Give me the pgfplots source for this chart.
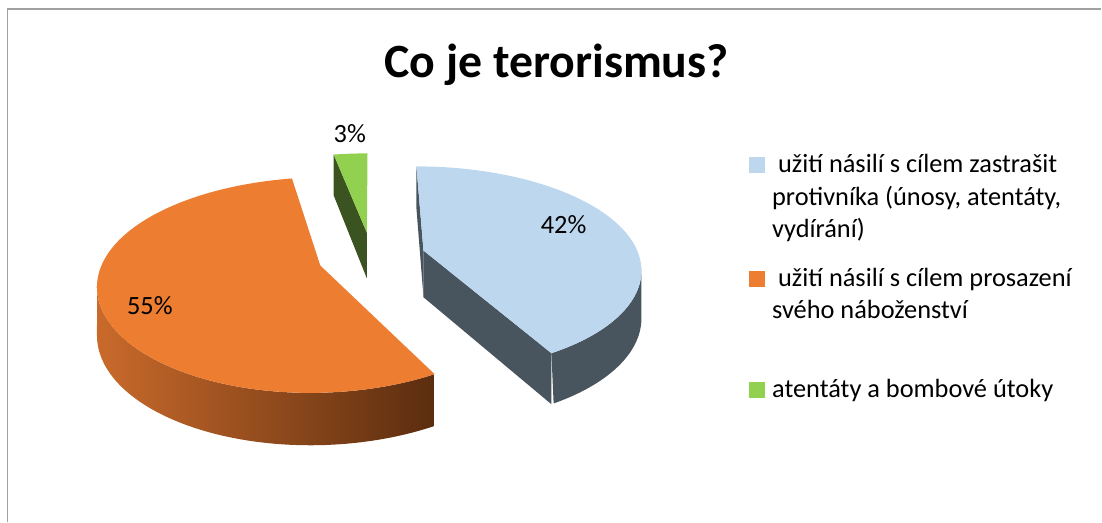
\documentclass[border=0pt]{standalone}
\usepackage{pgfplots}
\pgfplotsset{compat=1.18}
\usepackage{fontspec}
\setmainfont{Carlito}
\definecolor{blueTop}{HTML}{BDD7EE}
\definecolor{blueSide}{HTML}{48545E}
\definecolor{orangeTop}{HTML}{ED7D31}
\definecolor{orangeL}{HTML}{C96A2B}
\definecolor{orangeR}{HTML}{5B2D0F}
\definecolor{greenTop}{HTML}{92D050}
\definecolor{greenSide}{HTML}{3B5321}
\definecolor{frameGray}{HTML}{A0A0A0}
\begin{document}
\begin{tikzpicture}[declare function={
  PX(\u,\v)=372+216*\u/(1+0.16*\v);
  PY(\u,\v)=257-101.3*\v/(1+0.178*\v);
  DP(\v)=47-5*\v;
  TT(\s,\a,\b)=(\s<1.001)*(\a+\s*(\b-\a))+(\s>1.001)*(\b-(\s-1)*(\b-\a));
  DD(\s,\v)=(\s>1.001)*(47-5*\v);
}]
% ---- data (percent) ----
\def\valA{42}\def\valB{55}\def\valC{3}
\pgfmathsetmacro\tot{\valA+\valB+\valC}
\pgfmathsetmacro\aA{0}
\pgfmathsetmacro\bA{(\valA/\tot)*360}
\pgfmathsetmacro\aB{\bA}
\pgfmathsetmacro\bB{\bA+(\valB/\tot)*360}
\pgfmathsetmacro\aC{\bB}
\pgfmathsetmacro\bC{360}
% explosion offsets
\pgfmathsetmacro\ouA{0.25*sin((\aA+\bA)/2)}\pgfmathsetmacro\ovA{0.25*cos((\aA+\bA)/2)}
\pgfmathsetmacro\ouB{0.25*sin((\aB+\bB)/2)}\pgfmathsetmacro\ovB{0.25*cos((\aB+\bB)/2)}
\pgfmathsetmacro\ouC{0.25*sin((\aC+\bC)/2)}\pgfmathsetmacro\ovC{0.25*cos((\aC+\bC)/2)}
% centres
\pgfmathsetmacro\cxA{PX(\ouA,\ovA)}\pgfmathsetmacro\cyA{PY(\ouA,\ovA)}\pgfmathsetmacro\cdA{\cyA+DP(\ovA)}
\pgfmathsetmacro\cxB{PX(\ouB,\ovB)}\pgfmathsetmacro\cyB{PY(\ouB,\ovB)}
\pgfmathsetmacro\cxC{PX(\ouC,\ovC)}\pgfmathsetmacro\cyC{PY(\ouC,\ovC)}\pgfmathsetmacro\cdC{\cyC+DP(\ovC)}
% rim points
\pgfmathsetmacro\rxAa{PX(\ouA+sin(\aA),\ovA+cos(\aA))}\pgfmathsetmacro\ryAa{PY(\ouA+sin(\aA),\ovA+cos(\aA))}
\pgfmathsetmacro\rdAa{\ryAa+DP(\ovA+cos(\aA))}
\pgfmathsetmacro\rxAb{PX(\ouA+sin(\bA),\ovA+cos(\bA))}\pgfmathsetmacro\ryAb{PY(\ouA+sin(\bA),\ovA+cos(\bA))}
\pgfmathsetmacro\rdAb{\ryAb+DP(\ovA+cos(\bA))}
\pgfmathsetmacro\rxCa{PX(\ouC+sin(\aC),\ovC+cos(\aC))}\pgfmathsetmacro\ryCa{PY(\ouC+sin(\aC),\ovC+cos(\aC))}
\pgfmathsetmacro\rdCa{\ryCa+DP(\ovC+cos(\aC))}
\pgfmathsetmacro\sil{acos(-0.17)}
\pgfmathsetmacro\silB{360-\sil}
\begin{axis}[scale only axis, width=11.02cm, height=5.22cm,
  xmin=0, xmax=1102, ymin=0, ymax=522, y dir=reverse,
  hide axis, clip=false]
% frame
\draw[frameGray, line width=0.45pt] (axis cs:7.5,522) -- (axis cs:7.5,9) -- (axis cs:1102,9);
% ---------- green slice (back) ----------
\addplot[fill=greenSide, draw=none] coordinates {(\cxC,\cyC) (\rxCa,\ryCa) (\rxCa,\rdCa) (\cxC,\cdC)} -- cycle;
\addplot[fill=greenTop, draw=none, domain=\aC:\bC, samples=20, variable=\t]
  ({PX(\ouC+sin(\t),\ovC+cos(\t))},{PY(\ouC+sin(\t),\ovC+cos(\t))}) -- (axis cs:\cxC,\cyC) -- cycle;
% ---------- orange slice ----------
\addplot[left color=orangeL, right color=orangeR, draw=none, domain=0:2, samples=161, variable=\s]
  ({PX(\ouB+sin(TT(\s,\aB,\silB)),\ovB+cos(TT(\s,\aB,\silB)))},
   {PY(\ouB+sin(TT(\s,\aB,\silB)),\ovB+cos(TT(\s,\aB,\silB)))+DD(\s,\ovB+cos(TT(\s,\aB,\silB)))}) -- cycle;
\addplot[fill=orangeTop, draw=none, domain=\aB:\bB, samples=150, variable=\t]
  ({PX(\ouB+sin(\t),\ovB+cos(\t))},{PY(\ouB+sin(\t),\ovB+cos(\t))}) -- (axis cs:\cxB,\cyB) -- cycle;
% ---------- blue slice ----------
\addplot[fill=blueSide, draw=none] coordinates {(\cxA,\cyA) (\rxAa,\ryAa) (\rxAa,\rdAa) (\cxA,\cdA)} -- cycle;
\addplot[fill=blueSide, draw=none] coordinates {(\cxA,\cyA) (\rxAb,\ryAb) (\rxAb,\rdAb) (\cxA,\cdA)} -- cycle;
\addplot[fill=blueSide, draw=none, domain=0:2, samples=161, variable=\s]
  ({PX(\ouA+sin(TT(\s,\sil,\bA)),\ovA+cos(TT(\s,\sil,\bA)))},
   {PY(\ouA+sin(TT(\s,\sil,\bA)),\ovA+cos(TT(\s,\sil,\bA)))+DD(\s,\ovA+cos(TT(\s,\sil,\bA)))}) -- cycle;
\addplot[fill=blueTop, draw=none, domain=\aA:\bA, samples=120, variable=\t]
  ({PX(\ouA+sin(\t),\ovA+cos(\t))},{PY(\ouA+sin(\t),\ovA+cos(\t))}) -- (axis cs:\cxA,\cyA) -- cycle;
% ---------- data labels ----------
\node[font=\fontsize{7.5}{9}\selectfont] at (axis cs:564,225) {\valA\%};
\node[font=\fontsize{7.5}{9}\selectfont] at (axis cs:150,306) {\valB\%};
\node[font=\fontsize{7.5}{9}\selectfont] at (axis cs:350,134) {\valC\%};
% ---------- title ----------
\node[font=\bfseries\fontsize{13.6}{16}\selectfont, anchor=base] at (axis cs:557,78) {Co je terorismus?};
% ---------- legend ----------
\addplot[only marks, mark=square*, mark size=2pt, blueTop] coordinates {(757.5,165)};
\addplot[only marks, mark=square*, mark size=2pt, orangeTop] coordinates {(757.5,279)};
\addplot[only marks, mark=square*, mark size=2pt, greenTop] coordinates {(757.5,390.5)};
\begin{scope}[every node/.style={anchor=base west, font=\fontsize{7.5}{9}\selectfont, inner sep=0pt}]
\node at (axis cs:778,173) {užití násilí s cílem zastrašit};
\node at (axis cs:772,205.5) {protivníka (únosy, atentáty,};
\node at (axis cs:772,238) {vydírání)};
\node at (axis cs:778,287) {užití násilí s cílem prosazení};
\node at (axis cs:772,318.5) {svého náboženství};
\node at (axis cs:772,398) {atentáty a bombové útoky};
\end{scope}
\path (axis cs:0,0) rectangle (axis cs:1102,522);
\end{axis}
\end{tikzpicture}
\end{document}
